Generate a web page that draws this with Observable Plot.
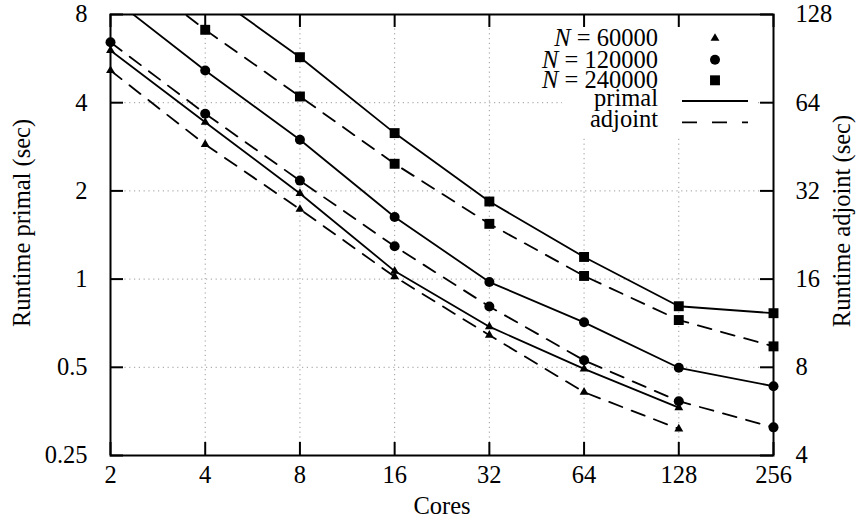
<!DOCTYPE html>
<html><head><meta charset="utf-8">
<script src="https://cdn.jsdelivr.net/npm/d3@7"></script>
<script src="https://cdn.jsdelivr.net/npm/@observablehq/plot@0.6"></script>
<style>
html,body{margin:0;padding:0;background:#fff;}
#wrap{position:relative;width:859px;height:524px;overflow:hidden;}
#legend{position:absolute;left:562px;top:27px;width:195px;height:111px;background:#fff;overflow:visible;}
#legend svg{overflow:visible;}
</style></head><body><div id="wrap"></div>
<script>
// ---- data ----
const cores = [2, 4, 8, 16, 32, 64, 128, 256];
const problemSizes = [60000, 120000, 240000];
const sizeSymbols = ["triangle", "circle", "square"];
// primal runtime (sec), left axis
const primal60000  = [6.03, 3.43, 1.96, 1.065, 0.688, 0.494, 0.364, null];
const primal120000 = [9.2, 5.15, 2.99, 1.63, 0.977, 0.712, 0.498, 0.431];
const primal240000 = [17.5, 9.75, 5.72, 3.15, 1.84, 1.19, 0.808, 0.765];
// adjoint runtime (sec), right axis
const adjoint60000  = [82.4, 46.1, 27.7, 16.3, 10.3, 6.58, 4.93, null];
const adjoint120000 = [102.9, 58.7, 34.7, 20.7, 12.9, 8.45, 6.13, 4.99];
const adjoint240000 = [201, 113.5, 67.2, 39.6, 24.7, 16.4, 11.6, 9.43];
// axes
const xTicks = [2, 4, 8, 16, 32, 64, 128, 256];
const xTickLabels = ["2", "4", "8", "16", "32", "64", "128", "256"];
const yTicks = [0.25, 0.5, 1, 2, 4, 8];
const yTickLabels = ["0.25", "0.5", "1", "2", "4", "8"];
const y2TickLabels = ["4", "8", "16", "32", "64", "128"];
const adjointFactor = 16; // right axis = left axis * 16
const xLabel = "Cores";
const yLabel = "Runtime primal (sec)";
const y2Label = "Runtime adjoint (sec)";
const kindLabels = ["primal", "adjoint"];

// ---- build table ----
const series = [
  {N: 60000, kind: "primal", values: primal60000},
  {N: 120000, kind: "primal", values: primal120000},
  {N: 240000, kind: "primal", values: primal240000},
  {N: 60000, kind: "adjoint", values: adjoint60000},
  {N: 120000, kind: "adjoint", values: adjoint120000},
  {N: 240000, kind: "adjoint", values: adjoint240000}
];
const rows = series.flatMap(s => cores.map((c, i) => ({cores: c, v: s.values[i], N: s.N, kind: s.kind}))
  .filter(d => d.v != null)
  .map(d => ({...d, y: d.kind === "adjoint" ? d.v / adjointFactor : d.v})));
const primalRows = rows.filter(d => d.kind === "primal");
const adjointRows = rows.filter(d => d.kind === "adjoint");
const visible = rows.filter(d => d.y <= 8 && d.y >= 0.25);

const W = 859, H = 524, mL = 110, mR = 86, mT = 14, mB = 69;
const fw = W - mL - mR, fh = H - mT - mB;
const font = "'Liberation Serif', 'Times New Roman', serif";
const fs = 24.5;
const dash = "14,10";
const lw = 1.8;
const symR = {triangle: 3.3, circle: 5, square: 5.6};
const gridStyle = {stroke: "#9a9a9a", strokeOpacity: 1, strokeWidth: 1, strokeDasharray: "1.2,3.6"};

const dotMarks = problemSizes.map((N, k) => Plot.dot(visible.filter(d => d.N === N), {
  x: "cores", y: "y", symbol: sizeSymbols[k], r: symR[sizeSymbols[k]], fill: "#000", stroke: "none"
}));

const plot = Plot.plot({
  width: W, height: H,
  marginLeft: mL, marginRight: mR, marginTop: mT, marginBottom: mB,
  style: {fontFamily: font, fontSize: fs + "px", color: "#000", background: "#fff", overflow: "visible"},
  x: {type: "log", base: 2, domain: [2, 256]},
  y: {type: "log", base: 2, domain: [0.25, 8]},
  marks: [
    Plot.gridX(xTicks, gridStyle),
    Plot.gridY(yTicks, gridStyle),
    Plot.line(primalRows, {x: "cores", y: "y", z: "N", stroke: "#000", strokeWidth: lw, clip: true}),
    Plot.line(adjointRows, {x: "cores", y: "y", z: "N", stroke: "#000", strokeWidth: lw, strokeDasharray: dash, clip: true}),
    Plot.frame({stroke: "#000", strokeWidth: 2}),
    Plot.tickY(yTicks, {y: d => d, insetRight: fw - 13, stroke: "#000", strokeWidth: 2}),
    Plot.tickY(yTicks, {y: d => d, insetLeft: fw - 13, stroke: "#000", strokeWidth: 2}),
    Plot.tickX(xTicks, {x: d => d, insetTop: fh - 13, stroke: "#000", strokeWidth: 2}),
    Plot.tickX(xTicks, {x: d => d, insetBottom: fh - 13, stroke: "#000", strokeWidth: 2}),
    ...dotMarks,
    Plot.axisY(yTicks, {anchor: "left", tickSize: 0, tickPadding: 23, tickFormat: d => yTickLabels[yTicks.indexOf(d)], label: null, fontSize: fs}),
    Plot.axisY(yTicks, {anchor: "right", tickSize: 0, tickPadding: 22, tickFormat: d => y2TickLabels[yTicks.indexOf(d)], label: null, fontSize: fs}),
    Plot.axisX(xTicks, {anchor: "bottom", tickSize: 0, tickPadding: 10, tickFormat: d => xTickLabels[xTicks.indexOf(d)], label: null, fontSize: fs}),
    Plot.text([xLabel], {frameAnchor: "bottom", dy: 51, text: d => d, fontSize: fs, textAnchor: "middle", lineAnchor: "middle"}),
    Plot.text([yLabel], {frameAnchor: "left", dx: -88, dy: -12, rotate: -90, text: d => d, fontSize: fs, textAnchor: "middle", lineAnchor: "middle"}),
    Plot.text([y2Label], {frameAnchor: "right", dx: 69, dy: -14, rotate: -90, text: d => d, fontSize: fs, textAnchor: "middle", lineAnchor: "middle"})
  ]
});
const wrap = document.getElementById("wrap");
wrap.appendChild(plot);

// ---- legend (overlay, opaque box like gnuplot key; text may overflow it) ----
const leg = d3.select(wrap).append("div").attr("id", "legend")
  .append("svg").attr("width", 195).attr("height", 111)
  .style("font-family", font).style("font-size", fs + "px");
const rowY = [11.3, 32.7, 53.3, 74, 95.3];
problemSizes.forEach((N, k) => {
  const t = leg.append("text").attr("x", 96).attr("y", rowY[k]).attr("dy", "0.33em").attr("text-anchor", "end");
  t.append("tspan").attr("font-style", "italic").text("N");
  t.append("tspan").text("\u00a0=\u00a0" + N);
  const sym = sizeSymbols[k];
  const r = symR[sym];
  const type = sym === "triangle" ? d3.symbolTriangle : sym === "circle" ? d3.symbolCircle : d3.symbolSquare;
  leg.append("path").attr("transform", `translate(153,${rowY[k]})`)
    .attr("d", d3.symbol(type, Math.PI * r * r)()).attr("fill", "#000");
});
kindLabels.forEach((lab, j) => {
  const y = rowY[3 + j];
  leg.append("text").attr("x", 96).attr("y", y).attr("dy", "0.2em").attr("text-anchor", "end").text(lab);
  leg.append("line").attr("x1", 120).attr("x2", 186).attr("y1", y).attr("y2", y)
    .attr("stroke", "#000").attr("stroke-width", lw)
    .attr("stroke-dasharray", j === 1 ? "15,15" : null);
});
</script></body></html>
